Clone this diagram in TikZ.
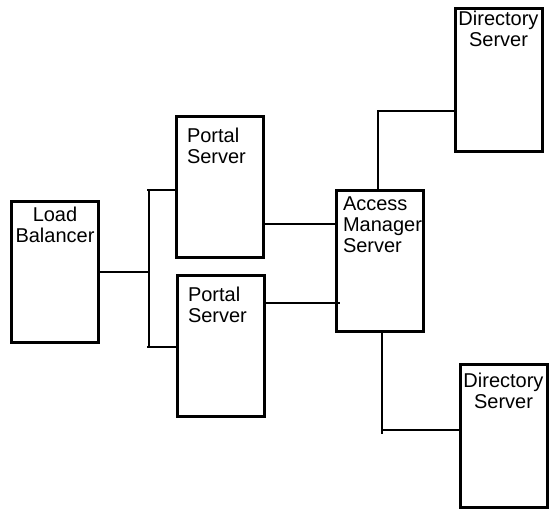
\documentclass[tikz,border=0pt]{standalone}
\usepackage{fontspec}
\setmainfont{Liberation Sans}
\begin{document}
\begin{tikzpicture}
[x=1pt,y=-1pt,line width=2pt,
box/.style={draw,line width=3pt,rectangle,minimum width=87pt,minimum height=141pt,inner sep=0pt},
txt/.style={inner sep=0pt,font=\fontsize{20}{21}\selectfont}]
\useasboundingbox (0,0) rectangle (550,510);
\node[box,label={[txt,anchor=north,yshift=-6pt,align=center]north:Load\\Balancer}] (lb) at (55,272) {};
\node[box,label={[txt,anchor=north west,xshift=11pt,yshift=-12pt,align=left]north west:Portal\\Server}] (ps1) at (220,187) {};
\node[box,label={[txt,anchor=north west,xshift=11pt,yshift=-12pt,align=left]north west:Portal\\Server}] (ps2) at (221,346.5) {};
\node[box,label={[txt,anchor=north west,xshift=7pt,yshift=-6pt,align=left]north west:Access\\Manager\\Server}] (am) at (380,261.5) {};
\node[box,minimum height=143pt,label={[txt,anchor=north,yshift=-3pt,align=center]north:Directory\\Server}] (ds1) at (498.5,80) {};
\node[box,minimum height=143pt,label={[txt,anchor=north,yshift=-9pt,align=center]north:Directory\\Server}] (ds2) at (503.5,436) {};
% bus to the portal servers
\coordinate (busT) at (149,190);
\coordinate (busB) at (149,347);
\draw (busT) -- (busB);
\draw (lb.east) -- (lb.east -| busT);
\draw ([xshift=-2pt]busT) -- (busT -| ps1.west);
\draw ([xshift=-2pt]busB) -- (busB -| ps2.west);
% portal servers to access manager
\coordinate (am1) at (338,224);
\coordinate (am2) at (340,303);
\draw (am1 -| ps1.east) -- (am1);
\draw (am2 -| ps2.east) -- (am2);
% access manager to directory servers
\coordinate (upT) at (378,111);
\draw (upT |- am.north) -- (upT) -- (upT -| ds1.west);
\coordinate (dnJ) at (382,430);
\coordinate (dnB) at (382,434);
\draw (dnB |- am.south) -- (dnB);
\draw (dnJ) -- (dnJ -| ds2.west);
\end{tikzpicture}
\end{document}
